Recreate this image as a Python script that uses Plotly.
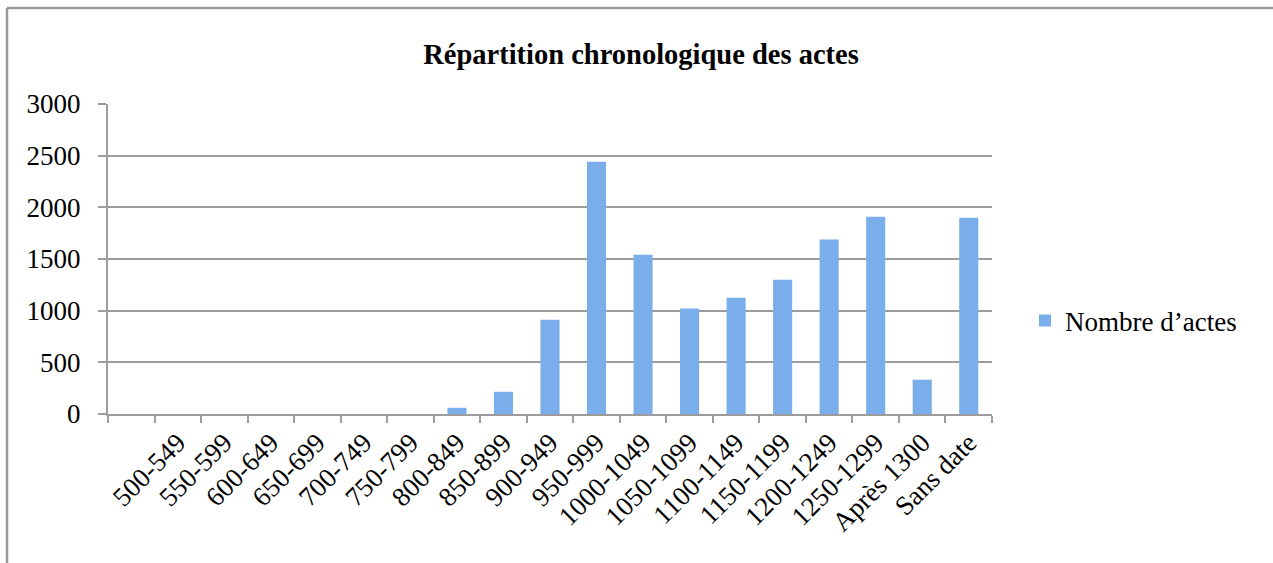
import plotly.graph_objects as go

categories = [" ", "500-549", "550-599", "600-649", "650-699", "700-749", "750-799",
              "800-849", "850-899", "900-949", "950-999", "1000-1049", "1050-1099",
              "1100-1149", "1150-1199", "1200-1249", "1250-1299", "Après 1300", "Sans date"]
values = [0, 0, 0, 0, 0, 0, 0, 60, 215, 912, 2442, 1542, 1020, 1125, 1300, 1688, 1910, 332, 1900]
series_name = "Nombre d\u2019actes"
y_ticks = [0, 500, 1000, 1500, 2000, 2500, 3000]

W, H = 1273, 563
ML, MR, MT, MB = 108, 281, 104, 149
PW, PH = W - ML - MR, H - MT - MB

FONT = "Liberation Serif"
GRID = "#9c9c9c"

fig = go.Figure()
fig.add_trace(go.Bar(
    x=categories, y=values, name=series_name,
    marker=dict(color="#79aeea", line=dict(width=0)),
    showlegend=True,
))

fig.update_layout(
    width=W, height=H,
    margin=dict(l=ML, r=MR, t=MT, b=MB, autoexpand=False),
    paper_bgcolor="white", plot_bgcolor="white",
    bargap=0.59,
    font=dict(family=FONT, size=27, color="black"),
    title=dict(text="<b>Répartition chronologique des actes</b>",
               font=dict(family=FONT, size=28.5, color="black"),
               x=641 / W, xanchor="center", xref="container",
               y=1 - 54 / H, yanchor="middle", yref="container"),
    legend=dict(x=(1025 - ML) / PW, xanchor="left",
                y=1 - (321 - MT) / PH, yanchor="middle",
                font=dict(family=FONT, size=27), itemwidth=30,
                bgcolor="rgba(0,0,0,0)"),
    xaxis=dict(type="category", categoryorder="array", categoryarray=categories,
               tickangle=-45, showline=True, linecolor=GRID, linewidth=2,
               ticks="outside", ticklen=7, tickcolor=GRID, tickwidth=2,
               tickson="boundaries", showgrid=False,
               tickfont=dict(family=FONT, size=27)),
    yaxis=dict(range=[0, 3000], tickvals=y_ticks, showline=True, linecolor=GRID,
               linewidth=2, ticks="outside", ticklen=8, tickcolor=GRID, tickwidth=2,
               showgrid=True, gridcolor=GRID, gridwidth=2, zeroline=False,
               ticklabelstandoff=12,
               tickfont=dict(family=FONT, size=27)),
    shapes=[
        dict(type="line", xref="paper", yref="paper",
             x0=(7 - ML) / PW, x1=(W + 5 - ML) / PW,
             y0=1 + (MT - 8) / PH, y1=1 + (MT - 8) / PH,
             line=dict(color="#999999", width=2.5)),
        dict(type="line", xref="paper", yref="paper",
             x0=(7 - ML) / PW, x1=(7 - ML) / PW,
             y0=1 + (MT - 8) / PH, y1=-(MB + 5) / PH,
             line=dict(color="#999999", width=2.5)),
    ],
)

fig.write_html("out.html", config={"displayModeBar": False},
               post_script="document.body.style.margin='0';")
